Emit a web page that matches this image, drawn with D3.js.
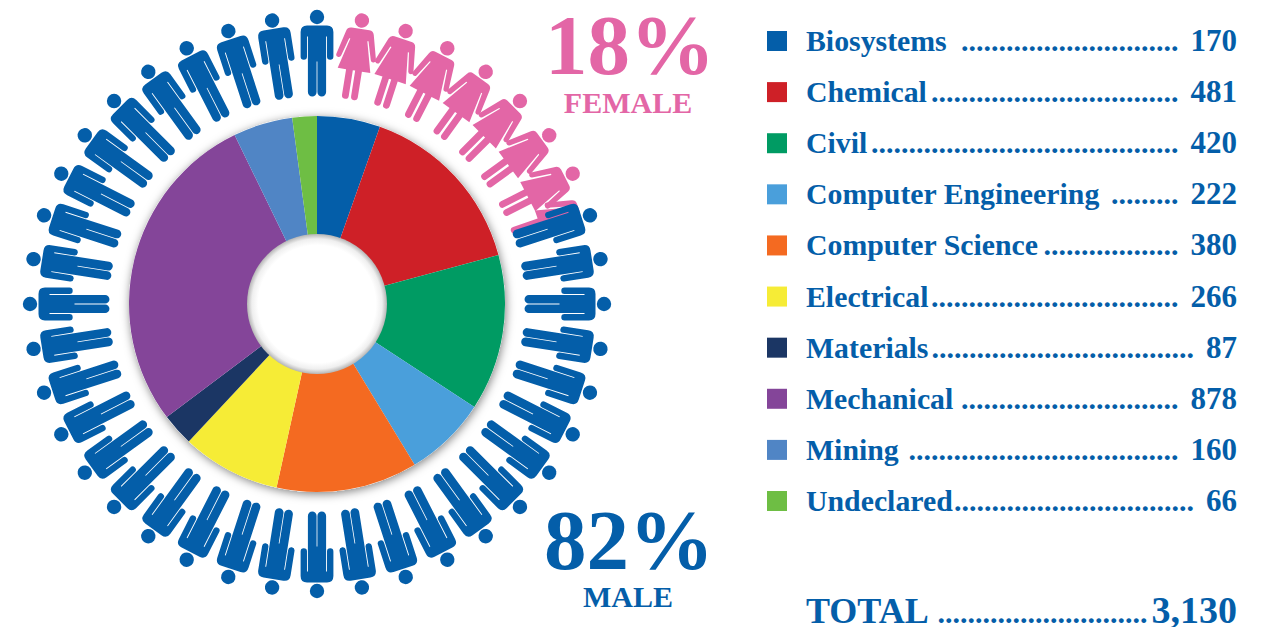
<!DOCTYPE html>
<html>
<head>
<meta charset="utf-8">
<script src="https://cdn.jsdelivr.net/npm/d3@7"></script>
<style>
  body { margin: 0; background: #fff; }
  text { font-family: "Liberation Serif", serif; font-weight: bold; }
</style>
</head>
<body>
<div id="chart"></div>
<script>
// Enrollment by major
const categories = ["Biosystems", "Chemical", "Civil", "Computer Engineering", "Computer Science", "Electrical", "Materials", "Mechanical", "Mining", "Undeclared"];
const enrolled = [170, 481, 420, 222, 380, 266, 87, 878, 160, 66];
const colors = ["#045ea9", "#ce2027", "#009b63", "#4a9fdb", "#f46a21", "#f6ec36", "#1b3664", "#844599", "#5085c5", "#6ebe44"];
const leaderDots = [29, 33, 41, 9, 18, 33, 35, 29, 36, 32];
const totalLabel = "TOTAL";
const totalValue = "3,130";
const totalDots = 28;

// Male / female split, 40 people around the ring
const genderLabels = ["FEMALE", "MALE"];
const genderShare = ["18%", "82%"];
const peopleCount = 40;
const femaleSlots = [1, 2, 3, 4, 5, 6, 7];
const hiddenFemaleSlots = [7.86];
const maleSlots = [0].concat(d3.range(8, 40));

const blue = "#045ea9";
const pink = "#e366a6";

const width = 1269;
const height = 627;
const cx = 317;
const cy = 304;
const outerRadius = 188;
const holeRadius = 70;
const feetRadius = 207.5;

// Person glyphs, drawn upright with the feet at 0
const maleBody = "M-10,-71 H10 Q16.4,-71 16.4,-64.5 V-40 A3.2,3.2 0 0 1 10,-40 V-60 H9.1 V-4.4 A4.35,4.35 0 0 1 0.4,-4.4 V-35 H-0.4 "
    + "V-4.4 A4.35,4.35 0 0 1 -9.1,-4.4 V-60 H-10 V-40 A3.2,3.2 0 0 1 -16.4,-40 V-64.5 Q-16.4,-71 -10,-71 Z";
const femaleBody = "M-9,-71 H9 Q13,-71 14,-67 L20,-43 A2.6,2.6 0 0 1 15,-41.6 L9.8,-60 H8.6 L16.5,-29 H8 V-3 A3.4,3.4 0 0 1 1.2,-3 V-29 H-1.2 "
    + "V-3 A3.4,3.4 0 0 1 -8,-3 V-29 H-16.5 L-8.6,-60 H-9.8 L-15,-41.6 A2.6,2.6 0 0 1 -20,-43 L-14,-67 Q-13,-71 -9,-71 Z";

const svg = d3.select("#chart").append("svg")
    .attr("width", width)
    .attr("height", height)
    .attr("viewBox", `0 0 ${width} ${height}`);

const defs = svg.append("defs");

// Soft shadow around the pie.
const shadow = defs.append("filter").attr("id", "pie-shadow")
    .attr("x", "-15%").attr("y", "-15%").attr("width", "130%").attr("height", "130%");
shadow.append("feDropShadow")
    .attr("dx", 1).attr("dy", 2).attr("stdDeviation", 5)
    .attr("flood-color", "#000").attr("flood-opacity", 0.5);

// The hole looks sunk in, so it darkens towards the edge.
const holeGradient = defs.append("radialGradient").attr("id", "hole-shade");
holeGradient.append("stop").attr("offset", "84%").attr("stop-color", "#fff");
holeGradient.append("stop").attr("offset", "93%").attr("stop-color", "#efefef");
holeGradient.append("stop").attr("offset", "100%").attr("stop-color", "#b5b5b5");

// Only the left half of the last woman shows from behind the man.
defs.append("clipPath").attr("id", "left-half")
    .append("rect").attr("x", -30).attr("y", -90).attr("width", 30).attr("height", 100);

const ring = svg.append("g").attr("transform", `translate(${cx},${cy})`);

// Create the donut slices.
const pie = d3.pie().sort(null);
const arc = d3.arc().innerRadius(holeRadius - 1).outerRadius(outerRadius);

ring.append("circle").attr("r", outerRadius).attr("fill", "#fff").attr("filter", "url(#pie-shadow)");

ring.selectAll("path.slice")
    .data(pie(enrolled))
    .enter().append("path")
    .attr("class", "slice")
    .attr("d", arc)
    .attr("fill", function(d, i) { return colors[i]; });

ring.append("circle").attr("r", holeRadius).attr("fill", "url(#hole-shade)");

// Angle of each person around the ring.
const slotAngle = d3.scaleLinear().domain([0, peopleCount]).range([0, 360]);

function placePeople(slots, color) {
    return ring.selectAll(null)
        .data(slots)
        .enter().append("g")
        .attr("transform", function(d) { return `rotate(${slotAngle(d)}) translate(0,${-feetRadius})`; })
        .attr("fill", color);
}

function drawPeople(slots, body, color) {
    const people = placePeople(slots, color);
    people.append("path").attr("d", body);
    people.append("circle").attr("cy", -79.5).attr("r", 7.2);
}

placePeople(hiddenFemaleSlots, pink).append("path")
    .attr("d", femaleBody)
    .attr("clip-path", "url(#left-half)");
drawPeople(femaleSlots, femaleBody, pink);
drawPeople(maleSlots, maleBody, blue);

// Big percentage labels.
const shareColor = [pink, blue];
const shareY = [74, 569];
const nameY = [113, 607];
const shareX = [630, 629];
const nameX = 628;

svg.selectAll("text.share")
    .data(genderShare)
    .enter().append("text")
    .attr("class", "share")
    .attr("x", function(d, i) { return shareX[i]; })
    .attr("y", function(d, i) { return shareY[i]; })
    .attr("text-anchor", "middle")
    .style("font-size", "85px")
    .attr("fill", function(d, i) { return shareColor[i]; })
    .text(function(d) { return d; });

svg.selectAll("text.gender")
    .data(genderLabels)
    .enter().append("text")
    .attr("class", "gender")
    .attr("x", nameX)
    .attr("y", function(d, i) { return nameY[i]; })
    .attr("text-anchor", "middle")
    .style("font-size", "30px")
    .attr("fill", function(d, i) { return shareColor[i]; })
    .text(function(d) { return d; });

// Legend rows.
const rowY = d3.scalePoint().domain(categories).range([41, 501]);
const swatchX = 767;
const swatchSize = 20;
const labelX = 806;
const valueEnd = 1237;
const dotsGap = 12;

const rows = svg.selectAll("g.row")
    .data(categories)
    .enter().append("g")
    .attr("class", "row")
    .attr("transform", function(d) { return `translate(0,${rowY(d)})`; })
    .attr("fill", blue)
    .style("font-size", "30px");

rows.append("rect")
    .attr("x", swatchX)
    .attr("y", -swatchSize / 2)
    .attr("width", swatchSize)
    .attr("height", swatchSize)
    .attr("fill", function(d, i) { return colors[i]; });

rows.append("text")
    .attr("x", labelX)
    .attr("y", 10)
    .style("font-size", "29.8px")
    .text(function(d) { return d; });

const values = rows.append("text")
    .attr("x", valueEnd)
    .attr("y", 10)
    .attr("text-anchor", "end")
    .style("font-size", "31px")
    .text(function(d, i) { return enrolled[i]; });

// The dots stop just before the number, so short numbers get a longer run.
rows.append("text")
    .attr("x", function(d, i) { return valueEnd - values.nodes()[i].getComputedTextLength() - dotsGap; })
    .attr("y", 10)
    .attr("text-anchor", "end")
    .text(function(d, i) { return ".".repeat(leaderDots[i]); });

// Total row.
const total = svg.append("g").attr("fill", blue);
total.append("text").attr("x", labelX).attr("y", 623).style("font-size", "36px").text(totalLabel);
const totalText = total.append("text")
    .attr("x", valueEnd)
    .attr("y", 623)
    .attr("text-anchor", "end")
    .style("font-size", "38px")
    .text(totalValue);
total.append("text")
    .attr("x", valueEnd - totalText.node().getComputedTextLength() - 4)
    .attr("y", 623)
    .attr("text-anchor", "end")
    .style("font-size", "30px")
    .text(".".repeat(totalDots));
</script>
</body>
</html>
